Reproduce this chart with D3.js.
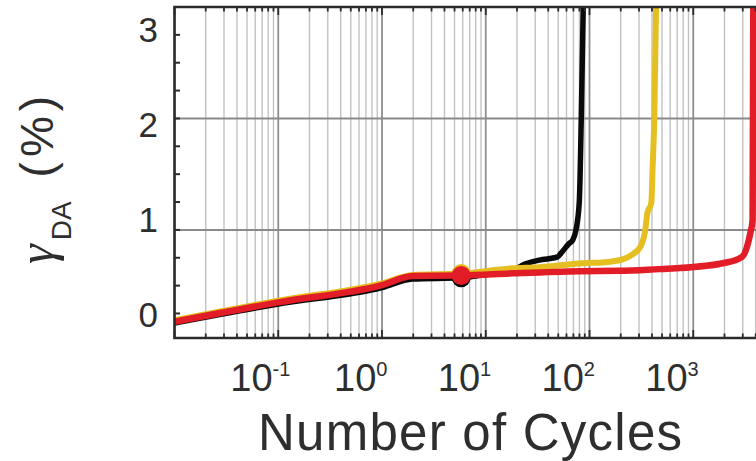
<!DOCTYPE html>
<html>
<head>
<meta charset="utf-8">
<script src="https://cdn.jsdelivr.net/npm/d3@7"></script>
<style>
  html, body { margin: 0; padding: 0; background: #fff; overflow: hidden; }
  svg { display: block; }
</style>
</head>
<body>
<svg id="chart" width="756" height="461"></svg>
<script>
// Shear strain gamma_DA (%) against number of loading cycles, three specimens.
const blackCycles = [0.01, 0.1, 1, 1.97, 5.8, 10, 18, 22.5, 32.8, 49.3, 53, 63.9, 69, 74.1, 79.7, 83.5, 87];
const blackStrain = [0.165, 0.335, 0.482, 0.56, 0.57, 0.6, 0.63, 0.684, 0.729, 0.758, 0.79, 0.88, 0.91, 1.0, 1.25, 2.05, 3.0];

const yellowCycles = [0.01, 0.1, 1, 1.97, 5.8, 18, 32.8, 80, 160, 208, 260, 310, 345, 361, 394, 406, 421, 438];
const yellowStrain = [0.19, 0.365, 0.52, 0.595, 0.608, 0.655, 0.666, 0.699, 0.715, 0.735, 0.78, 0.85, 1.0, 1.15, 1.24, 1.56, 2.0, 3.0];

const redCycles = [0.01, 0.1, 1, 1.97, 5.8, 18, 80, 194, 467, 671, 2037, 2951, 3296, 3548, 3733, 3791];
const redStrain = [0.176, 0.35, 0.505, 0.586, 0.59, 0.61, 0.63, 0.633, 0.648, 0.655, 0.705, 0.758, 0.848, 0.971, 1.087, 3.0];

// Cycle count at which each specimen carries a marker
const markerCycles = 5.8;

const xDecades = [0.1, 1, 10, 100, 1000];
const xDecadeExponents = ["-1", "0", "1", "2", "3"];
const yTickLabels = ["0", "1", "2", "3"];
const yGridValues = [1, 2];
const yMinorStep = 0.25;

const seriesList = [
  { name: "black",  cycles: blackCycles,  strain: blackStrain,  color: "#0a0a0a", width: 5.5 },
  { name: "yellow", cycles: yellowCycles, strain: yellowStrain, color: "#e5bf22", width: 6 },
  { name: "red",    cycles: redCycles,    strain: redStrain,    color: "#e31d27", width: 6.5 }
];

const svg = d3.select("#chart");
const plotLeft = 174.5, plotTop = 7, plotBottom = 338, plotRight = 797;

const x = d3.scaleLog().domain([0.01, 10000]).range([plotLeft, plotRight]);
const y = d3.scaleLinear().domain([0.03, 3]).range([plotBottom, plotTop]);
// tick labels sit evenly spaced along the strain axis
const yLabelPos = d3.scaleLinear().domain([0, 3]).range([314, 29]);

// minor cycle values 2..9 within each decade
const minorX = [];
for (let e = -2; e < 4; e++) {
  for (let k = 2; k <= 9; k++) minorX.push(k * Math.pow(10, e));
}
const majorX = [0.01, 0.1, 1, 10, 100, 1000, 10000];

const minorY = d3.range(yMinorStep, 3, yMinorStep);

// clip for everything drawn inside the frame
svg.append("defs").append("clipPath").attr("id", "plotClip")
  .append("rect").attr("x", plotLeft).attr("y", plotTop)
  .attr("width", plotRight - plotLeft).attr("height", plotBottom - plotTop);

const grid = svg.append("g").attr("clip-path", "url(#plotClip)");

grid.selectAll("line.minor-x").data(minorX).join("line")
  .attr("class", "minor-x")
  .attr("x1", d => x(d)).attr("x2", d => x(d))
  .attr("y1", plotTop).attr("y2", plotBottom)
  .attr("stroke", "#c2c2c2").attr("stroke-width", 1.4);

grid.selectAll("line.major-x").data(majorX).join("line")
  .attr("class", "major-x")
  .attr("x1", d => x(d)).attr("x2", d => x(d))
  .attr("y1", plotTop).attr("y2", plotBottom)
  .attr("stroke", "#8e8e8e").attr("stroke-width", 1.8);

grid.selectAll("line.grid-y").data(yGridValues).join("line")
  .attr("class", "grid-y")
  .attr("x1", plotLeft).attr("x2", plotRight)
  .attr("y1", d => y(d)).attr("y2", d => y(d))
  .attr("stroke", "#8a8a8a").attr("stroke-width", 2);

// curves
const line = d3.line()
  .x(d => x(d[0]))
  .y(d => y(d[1]))
  .curve(d3.curveMonotoneX);

const curves = svg.append("g").attr("clip-path", "url(#plotClip)");
seriesList.forEach(s => {
  const pts = s.cycles.map((c, i) => [c, s.strain[i]]);
  curves.append("path")
    .datum(pts)
    .attr("fill", "none")
    .attr("stroke", s.color)
    .attr("stroke-width", s.width)
    .attr("stroke-linejoin", "round")
    .attr("stroke-linecap", "round")
    .attr("d", line);
  const mi = s.cycles.indexOf(markerCycles);
  curves.append("circle")
    .attr("cx", x(markerCycles))
    .attr("cy", y(s.strain[mi]))
    .attr("r", 9.5)
    .attr("fill", s.color);
});

// frame and inward ticks
const frame = svg.append("g").attr("stroke", "#2b2b2b");
const tickAll = minorX.map(v => ({ v, len: 4.5 })).concat(majorX.map(v => ({ v, len: 8 })));
frame.selectAll("line.tick-top").data(tickAll).join("line")
  .attr("class", "tick-top")
  .attr("x1", d => x(d.v)).attr("x2", d => x(d.v))
  .attr("y1", plotTop).attr("y2", d => plotTop + d.len)
  .attr("stroke-width", 1.8);
frame.selectAll("line.tick-bottom").data(tickAll).join("line")
  .attr("class", "tick-bottom")
  .attr("x1", d => x(d.v)).attr("x2", d => x(d.v))
  .attr("y1", plotBottom).attr("y2", d => plotBottom - d.len)
  .attr("stroke-width", 1.8);
frame.selectAll("line.tick-left").data(minorY).join("line")
  .attr("class", "tick-left")
  .attr("x1", plotLeft).attr("x2", plotLeft + 5.5)
  .attr("y1", d => y(d)).attr("y2", d => y(d))
  .attr("stroke-width", 2);

frame.append("path")
  .attr("fill", "none")
  .attr("stroke-width", 2.6)
  .attr("d", `M${plotRight},${plotTop}H${plotLeft}V${plotBottom}H${plotRight}`);

const font = "'Liberation Sans', Arial, sans-serif";
const ink = "#2e2e2e";

// y tick labels
svg.append("g").selectAll("text").data(yTickLabels).join("text")
  .attr("x", 158)
  .attr("y", d => yLabelPos(+d) + 12.5)
  .attr("text-anchor", "end")
  .attr("font-family", font)
  .attr("font-size", 35)
  .attr("fill", ink)
  .text(d => d);

// x tick labels: 10 with superscript exponent
const xl = svg.append("g").selectAll("text").data(xDecades).join("text")
  .attr("x", d => x(d) - 48)
  .attr("y", 391)
  .attr("text-anchor", "start")
  .attr("font-family", font)
  .attr("font-size", 38)
  .attr("fill", ink);
xl.append("tspan").text("10");
xl.append("tspan")
  .attr("font-size", 20)
  .attr("dy", -15)
  .text((d, i) => xDecadeExponents[i]);

// axis titles
svg.append("text")
  .attr("x", 470)
  .attr("y", 450)
  .attr("text-anchor", "middle")
  .attr("font-family", font)
  .attr("font-size", 51)
  .attr("textLength", 424)
  .attr("lengthAdjust", "spacing")
  .attr("fill", ink)
  .text("Number of Cycles");

const yt = svg.append("text")
  .attr("transform", "translate(53,264) rotate(-90)")
  .attr("text-anchor", "start")
  .attr("font-family", font)
  .attr("font-size", 46)
  .attr("fill", ink);
yt.append("tspan")
  .attr("font-family", "'Liberation Serif', 'DejaVu Serif', serif")
  .attr("font-style", "italic")
  .attr("font-size", 50)
  .text("\u03B3");
yt.append("tspan")
  .attr("font-size", 28)
  .attr("dx", 4)
  .attr("dy", 18)
  .text("DA");
yt.append("tspan")
  .attr("dx", 24)
  .attr("dy", -18)
  .text("(");
yt.append("tspan")
  .attr("dx", 5)
  .text("%");
yt.append("tspan")
  .attr("dx", 5)
  .text(")");
</script>
</body>
</html>
